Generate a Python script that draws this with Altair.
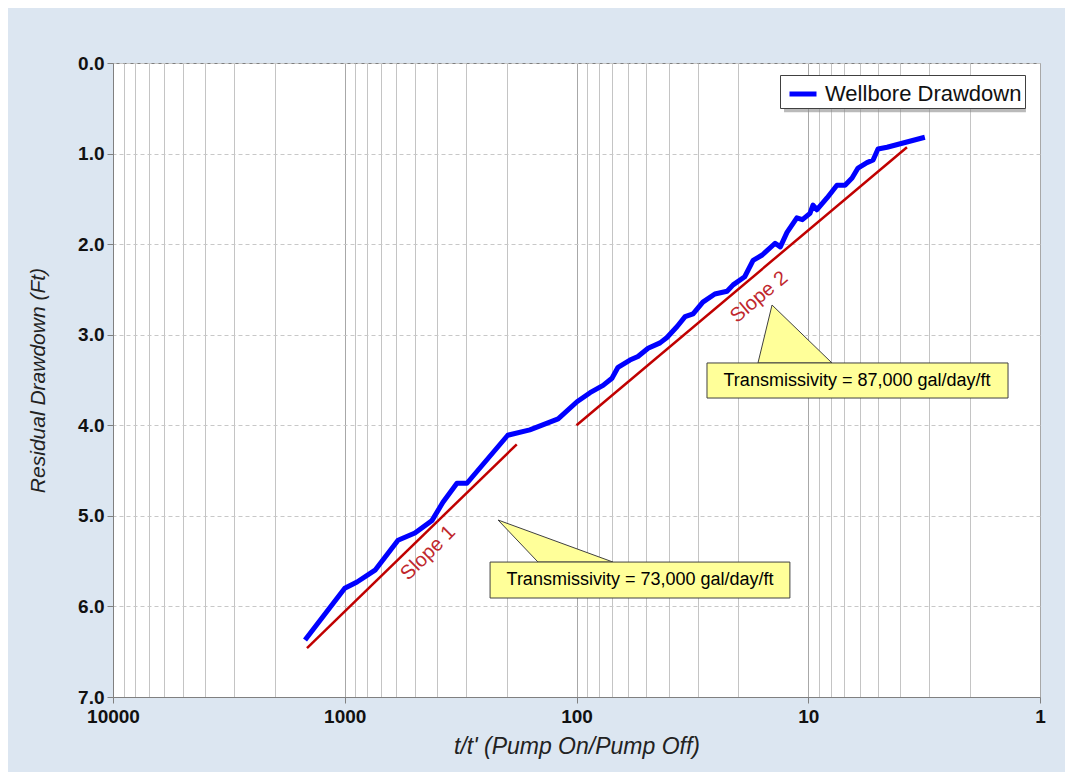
import altair as alt
import pandas as pd

# ---- data ----
ratio = [1484, 1000, 885, 740, 589, 498, 420, 377, 328, 297,
         198, 159, 120, 99.5, 87.4, 76.8, 70.3, 66.2, 58.8, 54.3,
         49.1, 43.6, 40.7, 36.8, 34.0, 31.4, 28.5, 25.3, 22.4, 21.1,
         18.8, 17.3, 15.8, 13.9, 13.2, 12.35, 11.2, 10.6, 9.83, 9.54,
         9.17, 8.30, 7.52, 6.94, 6.47, 6.10, 5.58, 5.25, 5.00, 4.57,
         3.14]
drawdown = [6.37, 5.80, 5.73, 5.60, 5.27, 5.19, 5.05, 4.85, 4.64, 4.64,
            4.11, 4.05, 3.93, 3.74, 3.64, 3.56, 3.48, 3.36, 3.28, 3.24,
            3.15, 3.09, 3.03, 2.91, 2.80, 2.77, 2.64, 2.55, 2.52, 2.45,
            2.36, 2.18, 2.12, 1.99, 2.03, 1.87, 1.71, 1.73, 1.66, 1.57,
            1.62, 1.49, 1.35, 1.35, 1.27, 1.16, 1.10, 1.07, 0.95, 0.93,
            0.82]

slope_id = ["Slope 1", "Slope 1", "Slope 2", "Slope 2"]
slope_x = [1455, 181, 100, 3.75]
slope_y = [6.46, 4.21, 4.00, 0.93]

slope_label = ["Slope 1", "Slope 2"]
slope_label_x = [437, 16.3]
slope_label_y = [5.41, 2.584]
slope_label_angle = [315, 320]

callout_text = ["Transmissivity = 73,000 gal/day/ft",
                "Transmissivity = 87,000 gal/day/ft"]
box_x1 = [236, 27.35]
box_x2 = [12.0, 1.374]
box_y1 = [5.51, 3.312]
box_y2 = [5.907, 3.699]
text_x = [53.2, 6.16]
text_y = [5.708, 3.511]
# pointer triangles: tip row then base row
tri_id = ["a", "a", "b", "b"]
tri_y = [5.046, 5.51, 2.672, 3.312]
tri_left = [218, 146.6, 14.33, 16.48]
tri_right = [218, 69.6, 14.33, 7.90]

# legend drop shadow (data coordinates)
shadow_x = [12.72]
shadow_x2 = [1.15]
shadow_y = [0.177]
shadow_y2 = [0.545]

major_ticks = [1, 10, 100, 1000, 10000]
grid_vals = [m * d for d in [1, 10, 100, 1000] for m in range(1, 10)] + [10000]
y_ticks = [0, 1, 2, 3, 4, 5, 6, 7]

FONT = "Liberation Sans, Arial, sans-serif"

# ---- tables ----
df_line = pd.DataFrame({"ratio": ratio, "drawdown": drawdown,
                        "order": list(range(len(ratio))),
                        "series": ["Wellbore Drawdown"] * len(ratio)})
df_slope = pd.DataFrame({"id": slope_id, "x": slope_x, "y": slope_y})
df_slabel = pd.DataFrame({"label": slope_label, "x": slope_label_x,
                          "y": slope_label_y, "angle": slope_label_angle})
df_box = pd.DataFrame({"x1": box_x1, "x2": box_x2, "y1": box_y1, "y2": box_y2,
                       "tx": text_x, "ty": text_y, "text": callout_text})
df_tri = pd.DataFrame({"id": tri_id, "y": tri_y, "xl": tri_left, "xr": tri_right})
df_shadow = pd.DataFrame({"x": shadow_x, "x2": shadow_x2, "y": shadow_y, "y2": shadow_y2})

xs = alt.Scale(type="log", domain=[1, 10000], reverse=True, nice=False)
ys = alt.Scale(domain=[0, 7], reverse=True, nice=False)

is_major = "indexof([1,10,100,1000,10000], datum.value) >= 0"

x_axis = alt.Axis(
    values=grid_vals,
    format="d",
    labelExpr=f"{is_major} ? datum.label : ''",
    labelOverlap=False,
    labelFlush=False,
    labelFont=FONT, labelFontSize=19, labelFontWeight="bold", labelColor="#111111",
    labelPadding=4,
    tickSize=6, tickColor="#808080",
    tickOpacity={"condition": {"test": is_major, "value": 1}, "value": 0},
    grid=True,
    gridColor={"condition": {"test": is_major, "value": "#a8a8a8"}, "value": "#c4c4c4"},
    gridWidth=1,
    domainColor="#808080",
    title="t/t' (Pump On/Pump Off)",
    titleFont=FONT, titleFontSize=23, titleFontStyle="italic", titleFontWeight="normal",
    titleColor="#222222", titlePadding=9,
)
y_axis = alt.Axis(
    values=y_ticks, format=".1f",
    labelFont=FONT, labelFontSize=19, labelFontWeight="bold", labelColor="#111111",
    labelPadding=3,
    tickSize=6, tickColor="#808080",
    grid=True, gridColor="#c8c8c8", gridDash=[4, 3], gridWidth=1,
    domainColor="#808080",
    title="Residual Drawdown (Ft)",
    titleFont=FONT, titleFontSize=21, titleFontStyle="italic", titleFontWeight="normal",
    titleColor="#222222", titlePadding=29,
)

shadow = alt.Chart(df_shadow).mark_rect(fill="#8c8c8c", opacity=0.6).encode(
    x=alt.X("x:Q", scale=xs, axis=x_axis), x2="x2:Q",
    y=alt.Y("y:Q", scale=ys, axis=y_axis), y2="y2:Q"
)

base_line = alt.Chart(df_line).mark_line(strokeWidth=5, strokeJoin="round").encode(
    x=alt.X("ratio:Q", scale=xs),
    y=alt.Y("drawdown:Q", scale=ys),
    order="order:Q",
    color=alt.Color("series:N",
                    scale=alt.Scale(domain=["Wellbore Drawdown"], range=["#0000ff"]),
                    legend=alt.Legend(
                        title=None, orient="none", legendX=667, legendY=12,
                        fillColor="white", strokeColor="#404040", padding=3,
                        symbolType="stroke", symbolStrokeWidth=5, symbolSize=729,
                        symbolOffset=4,
                        labelFont=FONT, labelFontSize=22, labelColor="#111111",
                        labelOffset=6, labelLimit=400)),
)

slopes = alt.Chart(df_slope).mark_line(color="#c00000", strokeWidth=2.5).encode(
    x=alt.X("x:Q", scale=xs), y=alt.Y("y:Q", scale=ys), detail="id:N"
)

slope_text_layers = []
for lab, ang in zip(slope_label, slope_label_angle):
    slope_text_layers.append(
        alt.Chart(df_slabel[df_slabel["label"] == lab]).mark_text(
            font=FONT, fontSize=20, color="#c0272d", angle=ang,
            align="center", baseline="middle").encode(
            x=alt.X("x:Q", scale=xs), y=alt.Y("y:Q", scale=ys), text="label:N")
    )

tri_layers = []
for tid in ["a", "b"]:
    tri_layers.append(
        alt.Chart(df_tri[df_tri["id"] == tid]).mark_area(
            orient="horizontal", fill="#ffff99", stroke="#404040", strokeWidth=1).encode(
            y=alt.Y("y:Q", scale=ys), x=alt.X("xl:Q", scale=xs), x2="xr:Q")
    )

boxes = alt.Chart(df_box).mark_rect(fill="#ffff99", stroke="#404040", strokeWidth=1).encode(
    x=alt.X("x1:Q", scale=xs), x2="x2:Q", y=alt.Y("y1:Q", scale=ys), y2="y2:Q"
)
box_text = alt.Chart(df_box).mark_text(font=FONT, fontSize=18, color="#000000",
                                       align="center", baseline="middle").encode(
    x=alt.X("tx:Q", scale=xs), y=alt.Y("ty:Q", scale=ys), text="text:N"
)

chart = alt.layer(
    shadow, base_line, slopes, *slope_text_layers, *tri_layers, boxes, box_text
).properties(
    width=927, height=634,
    autosize=alt.AutoSizeParams(type="none"),
    padding={"left": 105, "top": 55, "right": 25, "bottom": 75},
    background="#dce6f1",
).configure_view(stroke="#7f7f7f", fill="white", strokeWidth=1)

chart.save("out.html", embed_options={"renderer": "svg", "actions": False})
